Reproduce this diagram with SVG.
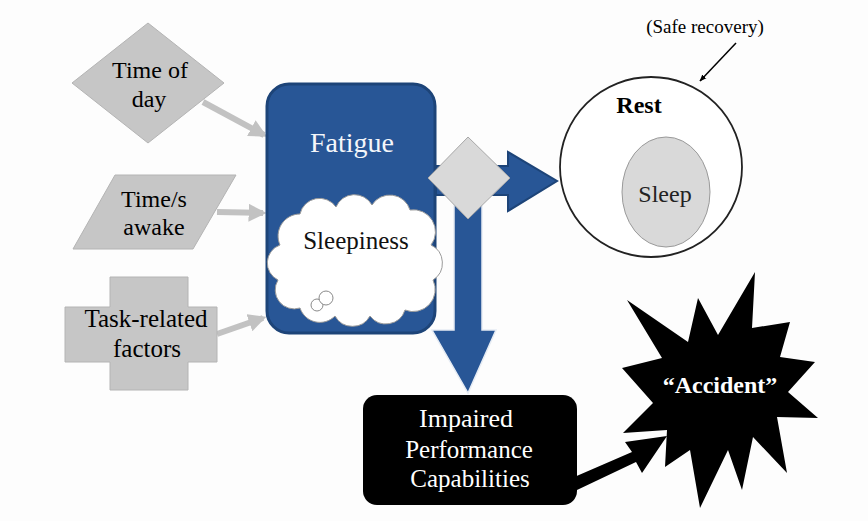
<svg xmlns="http://www.w3.org/2000/svg" width="868" height="521" viewBox="0 0 868 521">
<style>
text{font-family:'Liberation Serif', 'Times New Roman', serif;text-anchor:middle}
.gray{fill:#c6c6c6;stroke:#b4b4b4;stroke-width:1}
.garrow{stroke:#c2c2c2;stroke-width:6;fill:none;marker-end:url(#gh)}
.blue{fill:#285696;stroke:#1d4478;stroke-width:2}
</style>
<defs>
<marker id="gh" viewBox="0 0 10 10" refX="8" refY="5" markerWidth="3" markerHeight="3" orient="auto" markerUnits="strokeWidth">
<path d="M0,0 L10,5 L0,10 z" fill="#c2c2c2"/>
</marker>
<marker id="th" viewBox="0 0 10 10" refX="9" refY="5" markerWidth="7" markerHeight="7" orient="auto" markerUnits="userSpaceOnUse">
<path d="M0,1 L10,5 L0,9 z" fill="#000"/>
</marker>
</defs>
<rect width="868" height="521" fill="#fdfdfd"/>

<g id="connectors">
<line class="garrow" x1="203" y1="102" x2="264" y2="135"/>
<line class="garrow" x1="217" y1="212" x2="263" y2="213"/>
<line class="garrow" x1="217" y1="334" x2="263" y2="318"/>
<path class="blue" d="M436,166 L508,166 L508,152 L557,181 L508,211 L508,195 L436,195 z"/>
<path fill="#285696" stroke="#e6ecf4" stroke-width="1.5" d="M454,205 L482,205 L482,330 L496,330 L468,393 L432,330 L454,330 z"/>
<line x1="736" y1="43" x2="700" y2="81" stroke="#000" stroke-width="1.5" marker-end="url(#th)"/>
<path fill="#000" d="M572,478 L632,452 L625,442 L667,436 L642,473 L636,462 L577,490 z"/>
</g>

<g id="time-of-day">
<polygon class="gray" points="148,23 224,83 148,143 72,83"/>
<text x="150" y="78" font-size="24">Time of</text>
<text x="149" y="107" font-size="24">day</text>
</g>

<g id="time-awake">
<polygon class="gray" points="115,175 236,175 193,249 73,249"/>
<text x="154" y="207" font-size="24">Time/s</text>
<text x="154" y="235" font-size="24">awake</text>
</g>

<g id="task-related">
<path class="gray" d="M110,277 L188,277 L188,307 L217,307 L217,362 L188,362 L188,390 L110,390 L110,362 L65,362 L65,307 L110,307 z"/>
<text x="146" y="327" font-size="25">Task-related</text>
<text x="147" y="357" font-size="25">factors</text>
</g>

<g id="fatigue">
<rect x="267" y="84" width="168" height="249" rx="22" fill="#285696" stroke="#1d4478" stroke-width="3"/>
<text x="352" y="152" font-size="28" fill="#f4f6fa">Fatigue</text>
</g>

<g id="sleepiness">
<path fill="#ffffff" stroke="#9a9a9a" stroke-width="1" d="M280,245 A22,22 0 0 1 300,214 A20,20 0 0 1 336,207 A20,20 0 0 1 372,205 A21,21 0 0 1 410,210 A22,22 0 0 1 431,245 A20,20 0 0 1 433,280 A22,22 0 0 1 405,310 A20,20 0 0 1 370,316 A20,20 0 0 1 335,316 A21,21 0 0 1 300,308 A19,19 0 0 1 278,280 A19,19 0 0 1 280,245 z"/>
<circle cx="317" cy="305" r="6" fill="#fff" stroke="#8a8a8a" stroke-width="1"/>
<circle cx="326" cy="298" r="7" fill="#fff" stroke="#8a8a8a" stroke-width="1"/>
<text x="356" y="249" font-size="25" fill="#111">Sleepiness</text>
</g>

<g id="decision">
<polygon points="468,137 510,178 468,219 428,178" fill="#d9d9d9" stroke="#a8a8a8" stroke-width="1"/>
</g>

<g id="rest">
<ellipse cx="651" cy="167" rx="91" ry="90" fill="#ffffff" stroke="#222" stroke-width="1.8"/>
<text x="639" y="113" font-size="24" font-weight="bold">Rest</text>
</g>

<g id="sleep">
<ellipse cx="666" cy="192" rx="44" ry="55" fill="#d9d9d9" stroke="#9a9a9a" stroke-width="1"/>
<text x="665" y="202" font-size="24" fill="#222">Sleep</text>
</g>

<g id="safe-recovery">
<text x="705" y="33" font-size="19">(Safe recovery)</text>
</g>

<g id="impaired">
<rect x="363" y="395" width="214" height="110" rx="14" fill="#000"/>
<text x="466" y="427" font-size="26" fill="#fff">Impaired</text>
<text x="469" y="458" font-size="25" fill="#fff">Performance</text>
<text x="470" y="487" font-size="25" fill="#fff">Capabilities</text>
</g>

<g id="accident">
<polygon fill="#000" points="627,300 688,342 698,298 718,335 755,272 752,328 790,322 780,357 815,362 788,392 818,418 777,417 787,473 753,437 742,490 728,450 700,508 690,450 665,467 667,430 623,433 653,403 622,368 662,358"/>
<text x="720" y="393" font-size="24" font-weight="bold" fill="#fff">“Accident”</text>
</g>
</svg>
